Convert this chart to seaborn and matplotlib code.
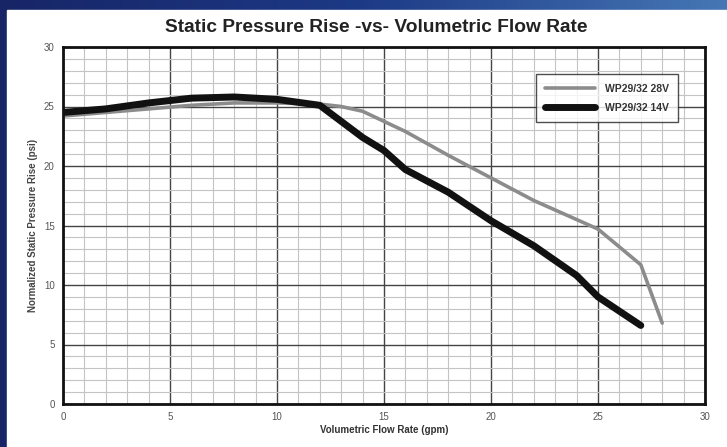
import numpy as np
import pandas as pd
import matplotlib
matplotlib.use("Agg")
import matplotlib.pyplot as plt
from matplotlib.patches import Rectangle
from matplotlib.ticker import MultipleLocator
import seaborn as sns

# Data
flow_28v = [0, 2, 4, 6, 8, 10, 12, 13, 14, 16, 18, 20, 22, 24, 25, 27, 28]
press_28v = [24.2, 24.5, 24.8, 25.1, 25.3, 25.3, 25.2, 25.0, 24.6, 22.9, 20.9, 19.0, 17.1, 15.5, 14.7, 11.7, 6.8]

flow_14v = [0, 2, 4, 6, 8, 10, 12, 14, 15, 16, 18, 20, 22, 24, 25, 27]
press_14v = [24.5, 24.8, 25.3, 25.7, 25.8, 25.6, 25.1, 22.4, 21.3, 19.7, 17.8, 15.4, 13.3, 10.8, 9.0, 6.6]

series_names = ["WP29/32 28V", "WP29/32 14V"]
x_ticks = [0, 5, 10, 15, 20, 25, 30]
y_ticks = [0, 5, 10, 15, 20, 25, 30]

sns.set_style("white")
plt.rcParams['font.family'] = ['Liberation Sans', 'DejaVu Sans']

fig = plt.figure(figsize=(7.27, 4.47), dpi=100)

# frame: blue gradient band at top, navy strip on the left, white panel
bg = fig.add_axes([0, 0, 1, 1], zorder=-2)
grad = np.linspace(0, 1, 256).reshape(1, -1)
bg.imshow(grad, aspect='auto', extent=[0, 1, 0, 1],
          cmap=matplotlib.colors.LinearSegmentedColormap.from_list('frame', ['#172567', '#1d3a86', '#4677b5']))
bg.add_patch(Rectangle((7 / 727, 0), 1, 1 - 10 / 447, color='white'))
bg.set_xlim(0, 1)
bg.set_ylim(0, 1)
bg.axis('off')

ax = fig.add_axes([63 / 727, 1 - 404 / 447, (705 - 63) / 727, (404 - 47) / 447])

sns.lineplot(x=flow_28v, y=press_28v, ax=ax, color='#8c8c8c', linewidth=2.6,
             label=series_names[0], sort=False)
sns.lineplot(x=flow_14v, y=press_14v, ax=ax, color='#111111', linewidth=5,
             label=series_names[1], sort=False)

ax.set_xlim(0, 30)
ax.set_ylim(0, 30)
ax.set_xticks(x_ticks)
ax.set_yticks(y_ticks)
ax.xaxis.set_minor_locator(MultipleLocator(1))
ax.yaxis.set_minor_locator(MultipleLocator(1))
ax.grid(which='major', color='#444444', linewidth=1.0)
ax.grid(which='minor', color='#c4c4c4', linewidth=0.8)
ax.set_axisbelow(True)
for s in ax.spines.values():
    s.set_color('#111111')
    s.set_linewidth(2)
ax.tick_params(which='major', length=3, width=0.8, color='#888888', labelsize=7,
               labelcolor='#555555', pad=3)
ax.tick_params(which='minor', length=0)

ax.set_xlabel('Volumetric Flow Rate (gpm)', fontsize=7, fontweight='bold', color='#333333', labelpad=2)
ax.set_ylabel('Normalized Static Pressure Rise (psi)', fontsize=7, fontweight='bold', color='#444444', labelpad=4)
fig.text(376 / 727, 1 - 27 / 447, 'Static Pressure Rise -vs- Volumetric Flow Rate', ha='center', va='center',
         fontsize=13.8, fontweight='bold', color='#222222')

leg = ax.legend(loc='upper right', bbox_to_anchor=(0.958, 0.924),
                frameon=True, fancybox=False, fontsize=7.5, handlelength=4.8, borderpad=0.9,
                labelspacing=0.9, handletextpad=0.9, borderaxespad=0)
leg.get_frame().set_edgecolor('#222222')
leg.get_frame().set_linewidth(1.0)
for t in leg.get_texts():
    t.set_fontweight('bold')
    t.set_color('#333333')

fig.savefig('out.png', dpi=100)
